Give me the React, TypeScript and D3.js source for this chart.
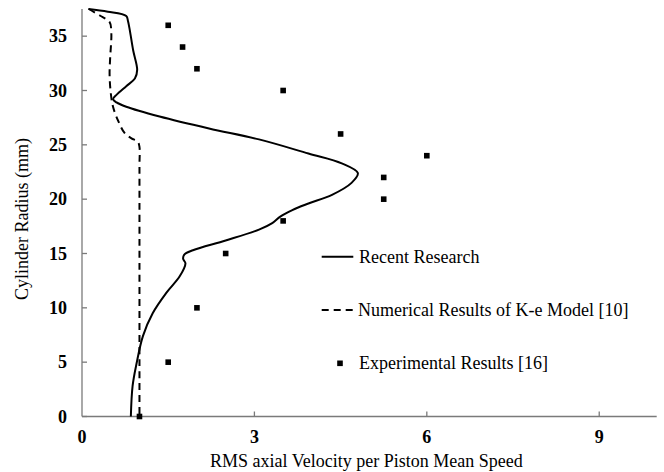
import React from "react";
import * as d3 from "d3";

const recentX = [0.11, 0.45, 0.77, 0.80, 0.83, 0.89, 0.96, 0.92, 0.77, 0.6, 0.54, 0.6, 0.77, 1.35, 2.21, 3.08, 3.94, 4.52, 4.8, 4.69, 4.35, 3.94, 3.66, 3.45, 3.31, 3.08, 2.5, 1.93, 1.78, 1.76, 1.8, 1.7, 1.47, 1.23, 1.06, 0.95, 0.88, 0.85];
const recentY = [37.5, 37.25, 36.85, 36.4, 35.6, 33.7, 31.9, 31.1, 30.4, 29.6, 29.2, 28.9, 28.5, 27.6, 26.5, 25.5, 24.2, 23.3, 22.4, 21.5, 20.4, 19.6, 19.0, 18.4, 17.8, 17.2, 16.2, 15.3, 14.9, 14.5, 14.1, 12.9, 11.4, 9.5, 7.4, 4.9, 2.8, 0];

const keX = [0.12, 0.31, 0.48, 0.51, 0.49, 0.48, 0.5, 0.54, 0.63, 0.74, 0.86, 0.97, 1.0, 1.0, 1.0];
const keY = [37.5, 36.9, 36.3, 35.3, 33.0, 31.5, 29.8, 28.5, 27.2, 26.1, 25.6, 25.3, 24.8, 23.0, 0];

const expX = [1.5, 1.75, 2, 3.5, 4.5, 6, 5.25, 5.25, 3.5, 2.5, 2, 1.5, 1];
const expY = [36, 34, 32, 30, 26, 24, 22, 20, 18, 15, 10, 5, 0];

const xTicks = [0, 3, 6, 9];
const yTicks = [0, 5, 10, 15, 20, 25, 30, 35];

const legendLabels = ["Recent Research", "Numerical Results of K-e Model [10]", "Experimental Results [16]"];

const FONT = '"Liberation Serif", "DejaVu Serif", serif';

export default function App() {
  const W = 664, H = 472;
  const left = 82, right = 656.7, top = 9, bottom = 416.5;
  const x = d3.scaleLinear().domain([0, 10]).range([left, right]);
  const y = d3.scaleLinear().domain([0, 37.5]).range([bottom, top]);
  const line = d3.line<[number, number]>().x(d => x(d[0])).y(d => y(d[1])).curve(d3.curveCatmullRom.alpha(0.5));
  const recent: [number, number][] = recentX.map((v, i) => [v, recentY[i]]);
  const ke: [number, number][] = keX.map((v, i) => [v, keY[i]]);
  const axisColor = "#7a7a7a";
  const ts: React.CSSProperties = { fontFamily: FONT, fontSize: 18 };
  const tb: React.CSSProperties = { fontFamily: FONT, fontSize: 18, fontWeight: "bold" };
  return (
    <svg width={W} height={H} style={{ position: "absolute", left: 0, top: 0, background: "#fff" }}>
      <rect x={0} y={0} width={W} height={H} fill="#fff" />
      <line x1={left} x2={left} y1={top} y2={bottom} stroke={axisColor} strokeWidth={1.3} />
      <line x1={left} x2={right} y1={bottom} y2={bottom} stroke={axisColor} strokeWidth={1.3} />
      {yTicks.map(t => (
        <g key={"y" + t}>
          <line x1={left} x2={left + 5} y1={y(t)} y2={y(t)} stroke={axisColor} strokeWidth={1.3} />
          <text x={67} y={y(t) + 6} textAnchor="end" style={tb} fill="#000">{t}</text>
        </g>
      ))}
      {xTicks.map(t => (
        <g key={"x" + t}>
          {t !== 0 && <line x1={x(t)} x2={x(t)} y1={bottom} y2={bottom - 5} stroke={axisColor} strokeWidth={1.3} />}
          <text x={x(t)} y={443} textAnchor="middle" style={tb} fill="#000">{t}</text>
        </g>
      ))}
      <path d={line(ke) || ""} fill="none" stroke="#000" strokeWidth={2} strokeDasharray="7,5" />
      <path d={line(recent) || ""} fill="none" stroke="#000" strokeWidth={2} />
      {expX.map((v, i) => (
        <rect key={"e" + i} x={x(v) - 2.8} y={y(expY[i]) - 2.8} width={5.6} height={5.6} fill="#000" />
      ))}
      <line x1={321.7} x2={353.3} y1={256.7} y2={256.7} stroke="#000" strokeWidth={2} />
      <text x={359} y={262.7} style={ts} fill="#000">{legendLabels[0]}</text>
      <line x1={321.7} x2={355} y1={310} y2={310} stroke="#000" strokeWidth={2} strokeDasharray="7,5" />
      <text x={358} y={316} style={ts} fill="#000">{legendLabels[1]}</text>
      <rect x={340 - 2.8} y={363.3 - 2.8} width={5.6} height={5.6} fill="#000" />
      <text x={359} y={369.3} style={ts} fill="#000">{legendLabels[2]}</text>
      <text x={(left + right) / 2 - 3} y={467} textAnchor="middle" style={ts} fill="#000">RMS axial Velocity per Piston Mean Speed</text>
      <text transform={`translate(28,219) rotate(-90)`} textAnchor="middle" style={ts} fill="#000">Cylinder Radius (mm)</text>
    </svg>
  );
}
